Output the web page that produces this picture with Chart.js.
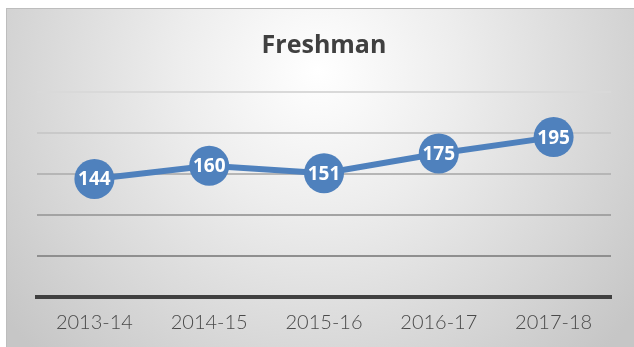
<!DOCTYPE html>
<html>
<head>
<meta charset="utf-8">
<script src="https://cdn.jsdelivr.net/npm/chart.js@4"></script>
<style>
  html, body { margin: 0; padding: 0; background: #fff; }
  #wrap { width: 634px; height: 347px; position: relative; }
</style>
</head>
<body>
<div id="wrap"><canvas id="chart"></canvas></div>
<script>
var years = ["2013-14", "2014-15", "2015-16", "2016-17", "2017-18"];
var freshman = [144, 160, 151, 175, 195];
var y_ticks = [0, 50, 100, 150, 200, 250];

var BLUE = "#4f81bd";

// frame with a soft radial shading behind everything
const panel = {
  id: "panel",
  beforeDraw(chart) {
    const ctx = chart.ctx;
    const x0 = 6, y0 = 8, x1 = chart.width + 2, y1 = chart.height + 2;
    ctx.save();
    const g = ctx.createRadialGradient(318, 70, 0, 318, 70, 400);
    g.addColorStop(0, "#ffffff");
    g.addColorStop(0.35, "#ededed");
    g.addColorStop(1, "#c6c6c6");
    ctx.fillStyle = g;
    ctx.fillRect(x0, y0, x1 - x0, y1 - y0);
    ctx.strokeStyle = "#bdbdbd";
    ctx.lineWidth = 1;
    ctx.strokeRect(x0 + 0.5, y0 + 0.5, x1 - x0, y1 - y0);
    ctx.restore();
  }
};

// value labels inside the markers
const markerLabels = {
  id: "markerLabels",
  afterDatasetsDraw(chart) {
    const ctx = chart.ctx;
    const meta = chart.getDatasetMeta(0);
    ctx.save();
    ctx.fillStyle = "#ffffff";
    ctx.font = "bold 19px 'Open Sans'";
    ctx.textAlign = "center";
    ctx.textBaseline = "middle";
    meta.data.forEach((pt, i) => {
      ctx.fillText(String(chart.data.datasets[0].data[i]), pt.x, pt.y + 1);
    });
    ctx.restore();
  }
};

const gridShade = ["rgba(0,0,0,0)", "#8f8f8f", "#a3a3a3", "#b6b6b6", "#c9c9c9", "#d9d9d9"];

new Chart(document.getElementById("chart"), {
  type: "line",
  data: {
    labels: years,
    datasets: [{
      label: "Freshman",
      data: freshman,
      borderColor: BLUE,
      backgroundColor: BLUE,
      borderWidth: 6,
      pointRadius: 20,
      pointHoverRadius: 20,
      pointBorderWidth: 0,
      pointBackgroundColor: BLUE,
      tension: 0
    }]
  },
  options: {
    responsive: true,
    maintainAspectRatio: false,
    animation: false,
    layout: { padding: { left: 37, right: 23, top: 0, bottom: -2 } },
    plugins: {
      legend: { display: false },
      tooltip: { enabled: false },
      title: {
        display: true,
        text: "Freshman",
        color: "#404040",
        font: { family: "'Open Sans'", size: 25, weight: "bold" },
        padding: { top: 31, bottom: 31 }
      }
    },
    scales: {
      x: {
        offset: true,
        grid: { display: false, drawTicks: false },
        border: { display: true, color: "#404040", width: 4 },
        ticks: {
          color: "#4a4a4a",
          padding: 14,
          font: { family: "Lato", size: 20, weight: 300 }
        }
      },
      y: {
        min: 0,
        max: 250,
        afterBuildTicks(axis) {
          axis.ticks = y_ticks.map(v => ({ value: v }));
        },
        grid: {
          drawTicks: false,
          lineWidth: 2,
          color: ctx => gridShade[ctx.index] || "#d9d9d9"
        },
        border: { display: false },
        ticks: { display: false }
      }
    }
  },
  plugins: [panel, markerLabels]
});
</script>
</body>
</html>
